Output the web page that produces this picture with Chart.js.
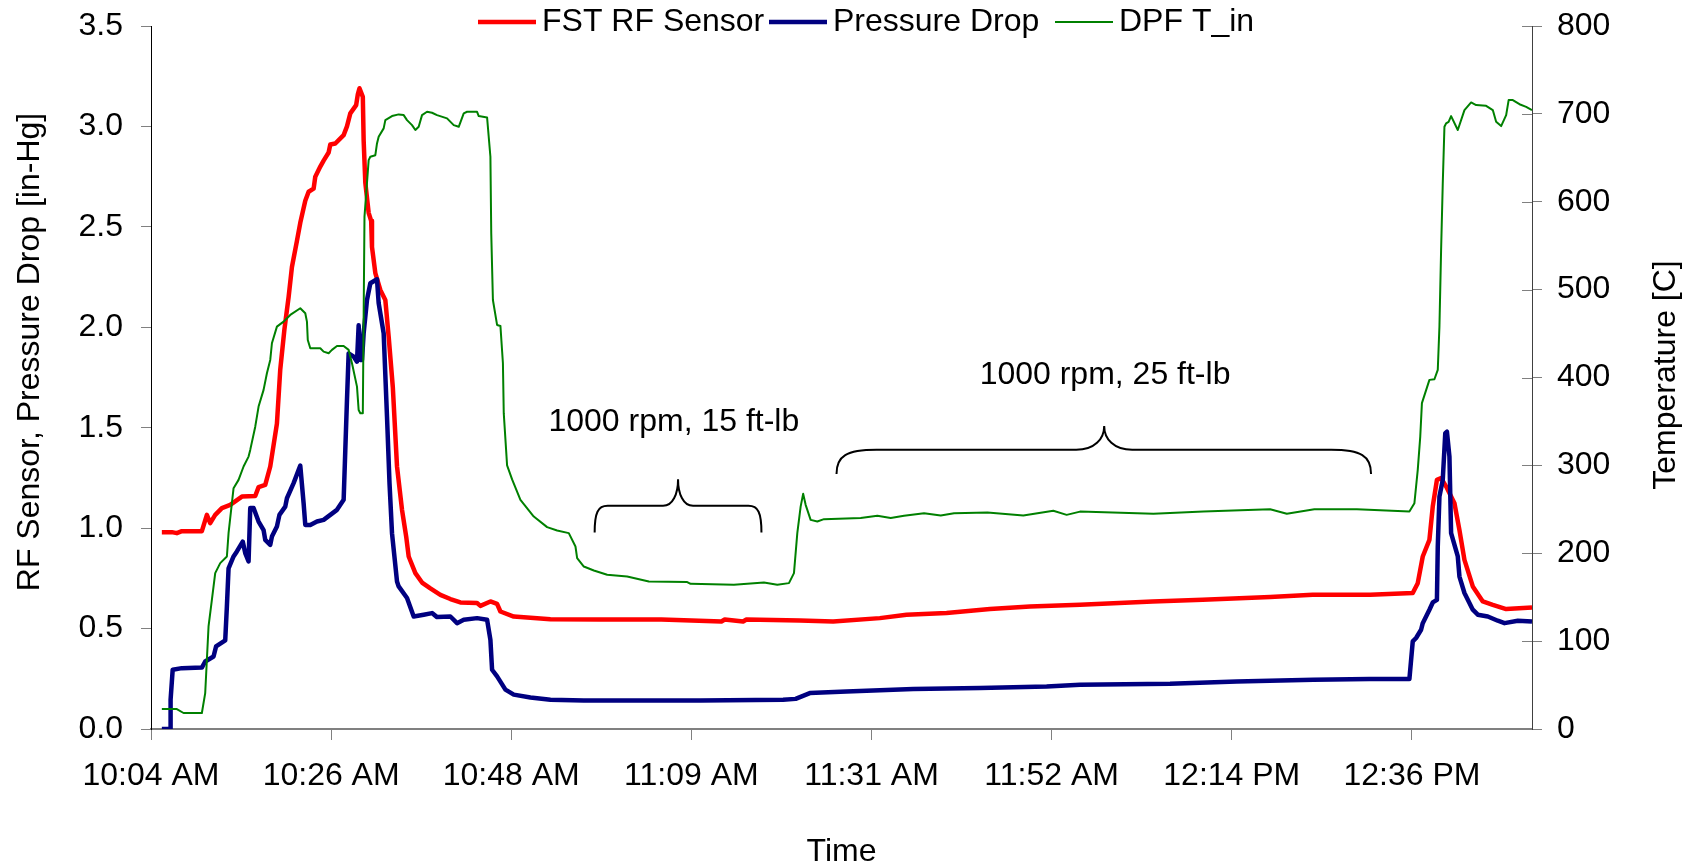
<!DOCTYPE html>
<html>
<head>
<meta charset="utf-8">
<script src="https://cdn.jsdelivr.net/npm/chart.js@4.4.1/dist/chart.umd.min.js"></script>
<style>
  body { margin: 0; background: #fff; }
  #chart { display: block; }
</style>
</head>
<body>
<canvas id="chart" width="1691" height="867"></canvas>
<script>
// tiempos en minutos desde la medianoche (eje X lineal)
const xMin = 604.8;   // 10:04:48
const xMax = 770.4;   // 12:50:24
const xStep = 21.6;
const xTickLabels = ['10:04 AM', '10:26 AM', '10:48 AM', '11:09 AM', '11:31 AM', '11:52 AM', '12:14 PM', '12:36 PM'];

// FST RF Sensor [in-Hg]
const rfTime = [
  606.1, 607.3, 607.9, 608.5, 610.9, 611.5, 611.9, 612.5, 613.3, 614.3,
  615.7, 617.3, 617.7, 618.5, 619.1, 619.9, 620.3, 620.8, 621.3, 621.7,
  622.3, 622.7, 623.3, 623.7, 624.3, 624.5, 625.1, 625.5, 626.1, 626.3,
  626.9, 627.9, 628.3, 628.7, 629.4, 629.6, 629.8, 630.2, 630.3, 630.5,
  630.9, 631.2, 631.3, 631.7, 632.3, 632.9, 633.3, 633.8, 634.3, 634.9,
  635.4, 635.7, 636.5, 637.3, 638.3, 639.5, 640.7, 641.9, 643.9, 644.3,
  645.5, 646.3, 646.7, 648.3, 652.7, 658.7, 666.0, 673.2, 673.6, 675.8,
  676.2, 682.6, 686.6, 692.2, 695.4, 700.2, 705.4, 710.2, 716.2, 724.9,
  730.9, 739.0, 744.1, 751.0, 756.1, 756.7, 757.3, 758.1, 758.5, 759.0,
  759.5, 760.2, 761.1, 761.7, 762.3, 763.3, 764.5, 765.7, 767.3, 770.4
];
const rfValue = [
  0.98, 0.98, 0.975, 0.985, 0.985, 1.066, 1.025, 1.066, 1.10, 1.116,
  1.157, 1.16, 1.204, 1.215, 1.307, 1.52, 1.79, 1.99, 2.15, 2.30,
  2.43, 2.52, 2.63, 2.675, 2.69, 2.75, 2.80, 2.83, 2.87, 2.91,
  2.915, 2.957, 3.00, 3.065, 3.106, 3.16, 3.19, 3.147, 2.93, 2.72,
  2.57, 2.53, 2.40, 2.27, 2.186, 2.136, 1.953, 1.70, 1.307, 1.091,
  0.958, 0.859, 0.776, 0.729, 0.70, 0.668, 0.647, 0.63, 0.627, 0.613,
  0.635, 0.623, 0.585, 0.56, 0.547, 0.545, 0.545, 0.535, 0.545, 0.535,
  0.545, 0.540, 0.535, 0.552, 0.569, 0.577, 0.597, 0.61, 0.618, 0.635,
  0.643, 0.657, 0.668, 0.668, 0.677, 0.726, 0.859, 0.942, 1.108, 1.24,
  1.249, 1.20, 1.124, 0.99, 0.842, 0.71, 0.635, 0.618, 0.597, 0.605
];

// Pressure Drop [in-Hg]
const dpTime = [
  606.1, 607.1, 607.15, 607.4, 608.5, 610.9, 611.3, 612.3, 612.6, 613.7,
  613.9, 614.1, 614.7, 615.1, 615.8, 616.1, 616.5, 616.7, 617.1, 617.7,
  618.3, 618.5, 619.1, 619.3, 619.9, 620.2, 620.9, 621.1, 621.9, 622.7,
  623.1, 623.3, 623.9, 624.7, 625.5, 626.3, 627.1, 627.9, 628.1, 628.3,
  628.5, 629.1, 629.5, 629.7, 629.9, 630.1, 630.3, 630.7, 631.1, 631.9,
  632.1, 632.7, 633.1, 633.4, 633.7, 634.3, 634.5, 635.5, 636.3, 637.5,
  638.5, 639.1, 640.7, 641.5, 642.3, 643.9, 645.1, 645.5, 645.7, 646.3,
  647.3, 648.3, 650.3, 652.7, 656.7, 670.7, 680.6, 682.1, 683.8, 688.2,
  696.2, 704.2, 712.2, 716.2, 727.0, 735.0, 744.2, 750.9, 755.7, 756.1,
  756.5, 757.1, 757.3, 758.1, 758.5, 759.0, 759.1, 759.3, 759.7, 760.0,
  760.2, 760.5, 760.7, 761.5, 761.7, 762.3, 763.3, 763.9, 765.1, 766.3,
  767.1, 768.7, 770.4
];
const dpValue = [
  0, 0, 0.146, 0.295, 0.303, 0.306, 0.336, 0.361, 0.411, 0.441,
  0.61, 0.80, 0.859, 0.884, 0.933, 0.876, 0.834, 1.10, 1.10, 1.033,
  0.99, 0.942, 0.917, 0.958, 1.008, 1.066, 1.107, 1.149, 1.224, 1.311,
  1.124, 1.016, 1.016, 1.033, 1.041, 1.066, 1.091, 1.141, 1.39, 1.638,
  1.87, 1.854, 1.829, 2.01, 1.837, 1.837, 1.97, 2.136, 2.219, 2.239,
  2.12, 1.97, 1.555, 1.224, 0.975, 0.734, 0.71, 0.652, 0.56, 0.569,
  0.577, 0.557, 0.56, 0.527, 0.544, 0.552, 0.544, 0.444, 0.295, 0.262,
  0.196, 0.171, 0.157, 0.146, 0.142, 0.142, 0.146, 0.15, 0.179, 0.187,
  0.199, 0.204, 0.212, 0.22, 0.225, 0.237, 0.245, 0.249, 0.249, 0.436,
  0.453, 0.494, 0.527, 0.594, 0.63, 0.643, 0.908, 1.157, 1.24, 1.473,
  1.48, 1.356, 0.975, 0.859, 0.759, 0.677, 0.594, 0.569, 0.56, 0.539,
  0.527, 0.539, 0.535
];

// DPF T_in [C]
const tinTime = [
  606.1, 607.9, 608.7, 610.9, 611.3, 611.5, 611.7, 612.1, 612.5, 613.1,
  613.9, 614.1, 614.7, 615.3, 615.9, 616.5, 616.7, 617.3, 617.7, 618.3,
  618.7, 619.1, 619.3, 619.9, 620.7, 621.5, 622.7, 623.3, 623.5, 623.6,
  623.9, 625.1, 625.5, 626.1, 626.5, 627.1, 627.9, 628.5, 628.9, 629.5,
  629.7, 629.9, 630.2, 630.4, 630.9, 631.1, 631.7, 631.9, 632.1, 632.7,
  632.9, 633.7, 634.5, 635.1, 635.5, 636.1, 636.5, 636.9, 637.3, 637.9,
  638.5, 639.1, 640.3, 641.1, 641.7, 642.3, 642.7, 643.9, 644.1, 645.1,
  645.5, 645.6, 645.8, 646.3, 646.7, 647.0, 647.1, 647.5, 648.1, 649.1,
  650.7, 652.3, 653.5, 654.9, 655.7, 655.9, 656.7, 657.9, 659.5, 661.9,
  664.5, 669.1, 669.5, 674.7, 678.3, 679.9, 681.3, 681.9, 682.3, 682.7,
  683.0, 683.3, 683.9, 684.7, 685.5, 689.9, 691.9, 693.5, 695.1, 697.5,
  699.5, 701.1, 705.1, 709.4, 713.0, 714.6, 716.2, 725.0, 731.0, 739.0,
  741.0, 744.3, 749.4, 755.7, 756.3, 756.7, 757.0, 757.2, 758.1, 758.7,
  759.1, 759.3, 759.5, 759.7, 759.9, 760.1, 760.4, 760.7, 761.5, 762.3,
  763.1, 763.7, 764.9, 765.7, 766.1, 766.7, 767.3, 767.6, 768.1, 768.9,
  769.7, 770.4
];
const tinValue = [
  22.7, 22.7, 18.2, 18.2, 40.9, 78.8, 116.7, 147, 177.4, 188.8,
  196.3, 222.9, 274, 283.5, 298.7, 310, 317.6, 344, 366.9, 385.9,
  404.9, 420, 439, 457.9, 463.6, 471.2, 478.8, 473.1, 463.6, 442.7,
  433.3, 433.3, 429.4, 427.6, 431.4, 435.9, 435.9, 431.4, 416.2, 389.6,
  363.1, 359.4, 359.4, 583, 647.4, 651.2, 653, 666.4, 674, 683.5,
  692.9, 697.5, 699.4, 698.6, 692.9, 687.2, 681.6, 685.3, 698.6, 702.4,
  701.3, 698.6, 694.9, 687.2, 685.3, 700.6, 702.4, 702.4, 697.5, 696,
  651.2, 564, 488.2, 459.8, 458.7, 416.2, 359.4, 300, 284, 260.8,
  241.8, 229.7, 225.9, 222.9, 207.7, 194.5, 184.9, 180.4, 175.5, 173.6,
  167.9, 167.2, 165.2, 164.1, 166.7, 164.1, 166, 177.4, 222.9, 253.1,
  267.6, 255.1, 238, 236.1, 238.8, 240, 242.6, 240, 242.6, 245.6,
  243, 245.6, 246.3, 243, 248.3, 243.7, 247.4, 245, 247.5, 250,
  245, 250, 250, 247.5, 257, 294.9, 332.8, 370.8, 397.3, 398,
  408.6, 457.9, 545, 621, 685.3, 689.2, 691, 697.5, 681.6, 704.3,
  713, 710, 709.2, 704.3, 691, 686.1, 698.6, 715.7, 715.7, 711,
  708, 704.3
];

// anotaciones (en unidades de datos: minutos y eje izquierdo)
const noteText = ['1000 rpm, 15 ft-lb', '1000 rpm, 25 ft-lb'];
const noteTime = [667.5, 719.2];
const noteLevel = [1.53, 1.763];
const braceFrom = [658.0, 687.0];
const braceTo = [678.0, 751.1];
const braceTipTime = [668.0, 719.1];
const braceFootLevel = [0.978, 1.27];
const braceBarLevel = [1.111, 1.39];
const braceTipLevel = [1.244, 1.509];
const braceStyle = [{ corner: 13, tip: 15 }, { corner: 40, tip: 28 }];

const FONT = "'Liberation Sans', Arial, sans-serif";
Chart.defaults.font.family = FONT;
Chart.defaults.font.size = 32;
Chart.defaults.color = '#000';

// donde empieza cada entrada de la leyenda
const legendX = [478, 769, 1055];

function pairs(t, v) {
  return t.map((x, i) => ({ x: x, y: v[i] }));
}

function drawBrace(ctx, x0, x1, xt, yF, yB, yT, st) {
  const h = yF - yB;
  ctx.beginPath();
  ctx.moveTo(x0, yF);
  ctx.bezierCurveTo(x0, yB + h * 0.25, x0 + st.corner * 0.25, yB, x0 + st.corner, yB);
  ctx.lineTo(xt - st.tip, yB);
  ctx.bezierCurveTo(xt - st.tip * 0.35, yB, xt, yB - (yB - yT) * 0.45, xt, yT);
  ctx.bezierCurveTo(xt, yB - (yB - yT) * 0.45, xt + st.tip * 0.35, yB, xt + st.tip, yB);
  ctx.lineTo(x1 - st.corner, yB);
  ctx.bezierCurveTo(x1 - st.corner * 0.25, yB, x1, yB + h * 0.25, x1, yF);
  ctx.stroke();
}

function verticalText(ctx, text, x, y) {
  ctx.save();
  ctx.translate(x, y);
  ctx.rotate(-Math.PI / 2);
  ctx.textAlign = 'center';
  ctx.textBaseline = 'middle';
  ctx.fillText(text, 0, 0);
  ctx.restore();
}

const overlay = {
  id: 'overlay',
  afterDraw(chart) {
    const ctx = chart.ctx;
    const xs = chart.scales.x, ys = chart.scales.y, yr = chart.scales.y1;
    ctx.save();
    // marcas hacia dentro del eje derecho
    ctx.strokeStyle = '#808080';
    ctx.lineWidth = 1;
    yr.ticks.forEach(t => {
      const py = Math.round(yr.getPixelForValue(t.value)) + 0.5;
      ctx.beginPath();
      ctx.moveTo(yr.left - 10, py);
      ctx.lineTo(yr.left, py);
      ctx.stroke();
    });
    // llaves
    ctx.strokeStyle = '#000';
    ctx.lineWidth = 2;
    noteText.forEach((t, i) => {
      drawBrace(ctx,
        xs.getPixelForValue(braceFrom[i]), xs.getPixelForValue(braceTo[i]), xs.getPixelForValue(braceTipTime[i]),
        ys.getPixelForValue(braceFootLevel[i]), ys.getPixelForValue(braceBarLevel[i]), ys.getPixelForValue(braceTipLevel[i]),
        braceStyle[i]);
    });
    // textos
    ctx.font = '32px ' + FONT;
    ctx.fillStyle = '#000';
    ctx.textAlign = 'center';
    ctx.textBaseline = 'middle';
    noteText.forEach((t, i) => {
      ctx.fillText(t, xs.getPixelForValue(noteTime[i]), ys.getPixelForValue(noteLevel[i]));
    });
    // titulos de los ejes Y
    verticalText(ctx, 'RF Sensor, Pressure Drop [in-Hg]', 30, 352);
    verticalText(ctx, 'Temperature [C]', 1666, 375);
    // leyenda
    const ly = 22;
    ctx.textAlign = 'left';
    chart.data.datasets.forEach((ds, i) => {
      const lx = legendX[i];
      ctx.strokeStyle = ds.borderColor;
      ctx.lineWidth = ds.borderWidth;
      ctx.beginPath();
      ctx.moveTo(lx, ly);
      ctx.lineTo(lx + 58, ly);
      ctx.stroke();
      ctx.fillText(ds.label, lx + 64, ly);
    });
    ctx.restore();
  }
};

const tickGrid = { drawOnChartArea: false, drawTicks: true, tickLength: 10, tickColor: '#808080', tickWidth: 1 };

// ancho fijo del eje y sin margen extra por las etiquetas
function fixWidth(w) {
  return (scale) => {
    scale.width = w;
    scale.paddingTop = 0;
    scale.paddingBottom = 0;
  };
}

new Chart(document.getElementById('chart'), {
  type: 'line',
  data: {
    datasets: [
      { label: 'FST RF Sensor', data: pairs(rfTime, rfValue), borderColor: '#ff0000', borderWidth: 4.5, yAxisID: 'y', order: 2 },
      { label: 'Pressure Drop', data: pairs(dpTime, dpValue), borderColor: '#000080', borderWidth: 4.5, yAxisID: 'y', order: 1 },
      { label: 'DPF T_in', data: pairs(tinTime, tinValue), borderColor: '#008000', borderWidth: 2, yAxisID: 'y1', order: 0 }
    ]
  },
  options: {
    responsive: false,
    animation: false,
    devicePixelRatio: 1,
    layout: { padding: { top: 26, left: 0, right: 0, bottom: 0 } },
    elements: {
      point: { radius: 0 },
      line: { tension: 0, borderJoinStyle: 'round', fill: false }
    },
    plugins: { legend: { display: false }, tooltip: { enabled: false } },
    scales: {
      x: {
        type: 'linear',
        min: xMin,
        max: xMax,
        afterBuildTicks: (scale) => {
          scale.ticks = xTickLabels.map((l, i) => ({ value: xMin + i * xStep }));
        },
        afterFit: (scale) => { scale.height = 138; },
        ticks: {
          autoSkip: false, maxRotation: 0, minRotation: 0, padding: 17,
          callback: (v, i) => xTickLabels[i]
        },
        grid: Object.assign({}, tickGrid, { tickLength: 11 }),
        border: { color: '#808080', width: 2 },
        title: { display: true, text: 'Time', padding: { top: 0, bottom: -4 } }
      },
      y: {
        position: 'left',
        min: 0,
        max: 3.5,
        afterFit: fixWidth(151),
        ticks: { stepSize: 0.5, padding: 18, callback: (v) => v.toFixed(1) },
        grid: tickGrid,
        border: { color: '#000', width: 1 }
      },
      y1: {
        position: 'right',
        min: 0,
        max: 800,
        afterFit: fixWidth(159),
        ticks: { stepSize: 100, padding: 15 },
        grid: tickGrid,
        border: { color: '#404040', width: 1 }
      }
    }
  },
  plugins: [overlay]
});
</script>
</body>
</html>
